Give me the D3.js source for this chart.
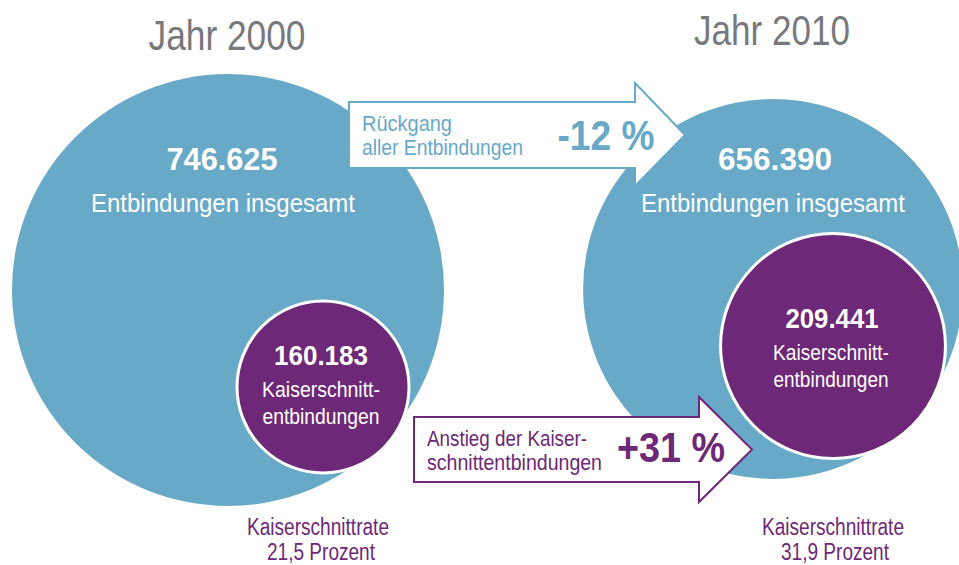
<!DOCTYPE html>
<html><head><meta charset="utf-8">
<script src="https://cdn.jsdelivr.net/npm/d3@7/dist/d3.min.js"></script>
<style>html,body{margin:0;padding:0;background:#fff;}svg{display:block;}</style>
</head><body>
<svg id="c" width="959" height="565"></svg>
<script>
// ---- data ----
const years = ["Jahr 2000", "Jahr 2010"];
const totalBirths = [746625, 656390];
const cesareanBirths = [160183, 209441];
const cesareanRates = [21.5, 31.9];
const changeTotal = -12;
const changeCesarean = 31;
const labelTotal = "Entbindungen insgesamt";
const labelCesarean = ["Kaiserschnitt-", "entbindungen"];
const labelRate = "Kaiserschnittrate";
const labelChangeTotal = ["Rückgang", "aller Entbindungen"];
const labelChangeCesarean = ["Anstieg der Kaiser-", "schnittentbindungen"];

// ---- style ----
const BLUE = "#67a9c7", PURPLE = "#6d2877", GREY = "#78797c";
const FONT = "'Liberation Sans Narrow','Liberation Sans',Arial,sans-serif";

const de = d3.formatLocale({decimal: ",", thousands: ".", grouping: [3], currency: ["", "€"]});
const fmtInt = de.format(",");
const fmtRate = de.format(".1f");
const fmtPct = v => (v > 0 ? "+" : "") + v + " %";

const svg = d3.select("#c");

// scales: radius linear in value
const rBig = d3.scaleLinear().domain([0, totalBirths[0]]).range([0, 216]);
const rSmall = d3.scaleLinear().domain([0, cesareanBirths[0]]).range([0, 86]);

// layout
const bigCenters = [[228, 290], [773, 289]];
const smallCenters = [[323, 387], [833, 346]];

// one <text> per line: [string, x, y, size, weight, width]
function block(lines, fill, anchor) {
  lines.forEach(L => {
    svg.append("text").attr("font-family", FONT).attr("fill", fill)
      .attr("text-anchor", anchor || "middle")
      .attr("x", L[1]).attr("y", L[2]).attr("font-size", L[3])
      .attr("font-weight", L[4] || "normal")
      .attr("textLength", L[5]).attr("lengthAdjust", "spacingAndGlyphs").text(L[0]);
  });
}

// big circles
svg.selectAll("circle.big").data(totalBirths).join("circle").attr("class", "big")
  .attr("cx", (d, i) => bigCenters[i][0]).attr("cy", (d, i) => bigCenters[i][1])
  .attr("r", d => rBig(d)).attr("fill", BLUE);

// small circles
svg.selectAll("circle.small").data(cesareanBirths).join("circle").attr("class", "small")
  .attr("cx", (d, i) => smallCenters[i][0]).attr("cy", (d, i) => smallCenters[i][1])
  .attr("r", d => rSmall(d)).attr("fill", PURPLE).attr("stroke", "#fff").attr("stroke-width", 3);

// titles
const titleLayout = [[227, 50, 157], [772, 45, 156]];
years.forEach((y, i) => block([[y, titleLayout[i][0], titleLayout[i][1], 43, "normal", titleLayout[i][2]]], GREY));

// totals
const totLayout = [[222, 170, 111, 223, 212, 264], [775, 170, 114, 773, 212, 264]];
totalBirths.forEach((v, i) => {
  const L = totLayout[i];
  block([[fmtInt(v), L[0], L[1], 32, "bold", L[2]],
         [labelTotal, L[3], L[4], 25.5, "normal", L[5]]], "#fff");
});

// cesarean
const cesLayout = [[321, 365, 94, 321, 397, 424, 118], [832, 328, 93, 831, 360, 387, 116]];
cesareanBirths.forEach((v, i) => {
  const L = cesLayout[i];
  block([[fmtInt(v), L[0], L[1], 28, "bold", L[2]],
         [labelCesarean[0], L[3], L[4], 22, "normal", L[6]],
         [labelCesarean[1], L[3], L[5], 22, "normal", L[6] - 1]], "#fff");
});

// rates
const rateLayout = [[318, 321], [833, 835]];
cesareanRates.forEach((v, i) => {
  block([[labelRate, rateLayout[i][0], 535, 23.5, "normal", 142],
         [fmtRate(v) + " Prozent", rateLayout[i][1], 560, 23.5, "normal", 108]], PURPLE);
});

// arrows
function arrow(x0, y0, y1, xs, hy0, hy1, xt, color) {
  const p = d3.path();
  const ym = (y0 + y1) / 2;
  p.moveTo(x0, y0); p.lineTo(xs, y0); p.lineTo(xs, hy0); p.lineTo(xt, ym);
  p.lineTo(xs, hy1); p.lineTo(xs, y1); p.lineTo(x0, y1); p.closePath();
  svg.append("path").attr("d", p.toString()).attr("fill", "#fff")
    .attr("stroke", color).attr("stroke-width", 2).attr("stroke-linejoin", "miter");
}
arrow(349, 102, 168, 635, 83, 186, 685, BLUE);
arrow(414, 417, 482, 699, 397, 502, 752, PURPLE);

block([[labelChangeTotal[0], 362, 131, 22.5, "normal", 90],
       [labelChangeTotal[1], 362, 155, 22.5, "normal", 161]], BLUE, "start");
block([[fmtPct(changeTotal), 606, 150, 42, "bold", 97]], BLUE);

block([[labelChangeCesarean[0], 427, 446, 22.5, "normal", 160],
       [labelChangeCesarean[1], 427, 470, 22.5, "normal", 175]], PURPLE, "start");
block([[fmtPct(changeCesarean), 671, 462, 42, "bold", 108]], PURPLE);
</script>
</body></html>
